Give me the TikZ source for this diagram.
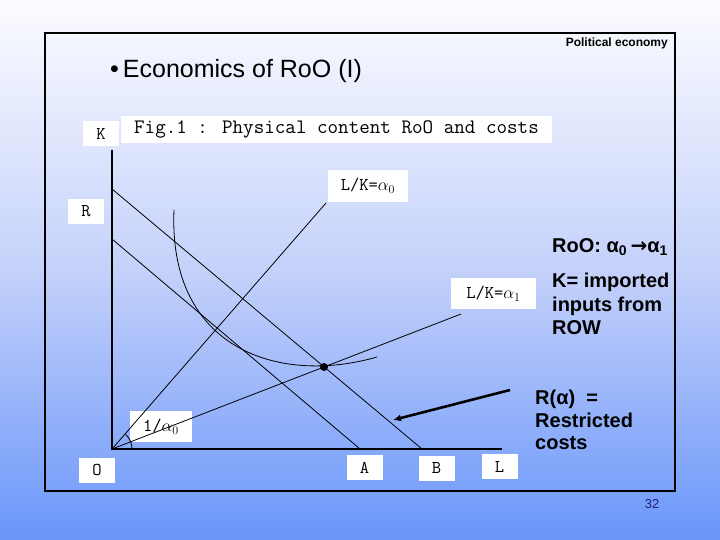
\documentclass[tikz,border=0pt]{standalone}
\usepackage{fontspec}
\setmainfont{Liberation Sans}
\newfontfamily\arrowfont{DejaVu Sans}
\usepackage{tikz}
\usetikzlibrary{arrows.meta, positioning}
\definecolor{slidetop}{RGB}{252,252,255}
\definecolor{slidemid}{RGB}{196,209,250}
\definecolor{slidebot}{RGB}{106,150,250}
\definecolor{pagenavy}{RGB}{30,30,110}

\begin{document}
\begin{tikzpicture}[
  x=1pt, y=-1pt,
  lbl/.style={fill=white, inner sep=0pt, minimum width=36pt, minimum height=25pt,
              font=\fontsize{18}{18}\selectfont\ttfamily},
  curve/.style={black, line width=0.8pt},
  axis/.style={black, line width=1.3pt},
  side/.style={font=\fontsize{20}{23.5}\selectfont\bfseries, align=left,
               inner sep=0pt},
  ptr/.style={-{Latex[length=8pt, width=7pt]}, line width=2.6pt},
]
  % slide background and frame
  \shade[top color=slidetop, bottom color=slidebot, middle color=slidemid]
    (0,0) rectangle (720,540);
  \useasboundingbox (0,0) rectangle (720,540);
  \draw[line width=2pt] (45,33) rectangle (675,491);

  \node[anchor=base east, inner sep=0pt, font=\fontsize{12}{12}\selectfont\bfseries]
    (corner) at (668,47) {Political economy};
  \node[anchor=base west, inner sep=0pt, font=\fontsize{25}{25}\selectfont]
    (title) at (110,78) {\textbullet\hspace{4pt}Economics of RoO (I)};
  \node[fill=white, inner sep=0pt, minimum width=431pt, minimum height=27pt,
        font=\fontsize{20.5}{20.5}\selectfont\ttfamily]
    (fig) at (336.5,129.5) {Fig.1 : Physical content RoO and costs};

  % label boxes
  \foreach \nm/\x/\y/\txt in {K/101/134/K, R/86/211.5/R, O/97/470/O,
                              A/364.5/467.5/A, B/436.5/468/B, L/499.5/466.5/L} {
    \node[lbl] (lbl\nm) at (\x,\y) {\txt};
  }
  \node[lbl, minimum width=80pt, minimum height=32pt]
    (lblAlpha0) at (368,186) {L/K=$\alpha_0$};
  \node[lbl, minimum width=85pt, minimum height=31pt]
    (lblAlpha1) at (493.5,293.5) {L/K=$\alpha_1$};
  \node[lbl, minimum width=62pt, minimum height=31pt]
    (lblInv) at (161,426.5) {1/$\alpha_0$};

  % diagram
  \coordinate (O) at (112,449);
  \coordinate (Ktop) at (112,150);
  \coordinate (Lend) at (502,449);
  \coordinate (Bhi) at (112,189);
  \coordinate (Bend) at (422,449);
  \coordinate (Ahi) at (112,239);
  \coordinate (Aend) at (360,449);
  \coordinate (ray0) at (326,203);
  \coordinate (ray1) at (461,314);
  \coordinate (isoTop) at (174,210);
  \coordinate (isoEnd) at (377,357);

  \draw[axis] (Ktop) -- (O) -- (Lend);
  \draw[curve] (Bhi) -- (Bend);
  \draw[curve] (Ahi) -- (Aend);
  \draw[curve] (O) -- (ray0);
  \draw[curve] (O) -- (ray1);
  \draw[curve] (isoTop) .. controls (168,350) and (280,385) .. (isoEnd);
  \draw[curve] ([xshift=20pt]O) arc[start angle=0, end angle=47, radius=20pt];
  \node[circle, fill=black, inner sep=0pt, minimum size=8pt] (tang) at (324,367) {};

  % notes on the right
  \node[side, anchor=base west] (roo) at (552,252)
    {RoO: α\textsubscript{0}\,{\arrowfont\bfseries →}α\textsubscript{1}};
  \node[side, anchor=north west] (kdef) at (552,273)
    {K= imported\\inputs from\\ROW};
  \node[side, anchor=north west, font=\fontsize{20}{22.5}\selectfont\bfseries]
    (rdef) at (535,390) {R(α)\ \ =\\Restricted\\costs};

  \coordinate (rtail) at (510,390);
  \coordinate (rtip) at (393,420);
  \draw[ptr] (rtail) -- (rtip);

  \node[font=\fontsize{13}{13}\selectfont, text=pagenavy] (pageno) at (652,504) {32};
\end{tikzpicture}
\end{document}
